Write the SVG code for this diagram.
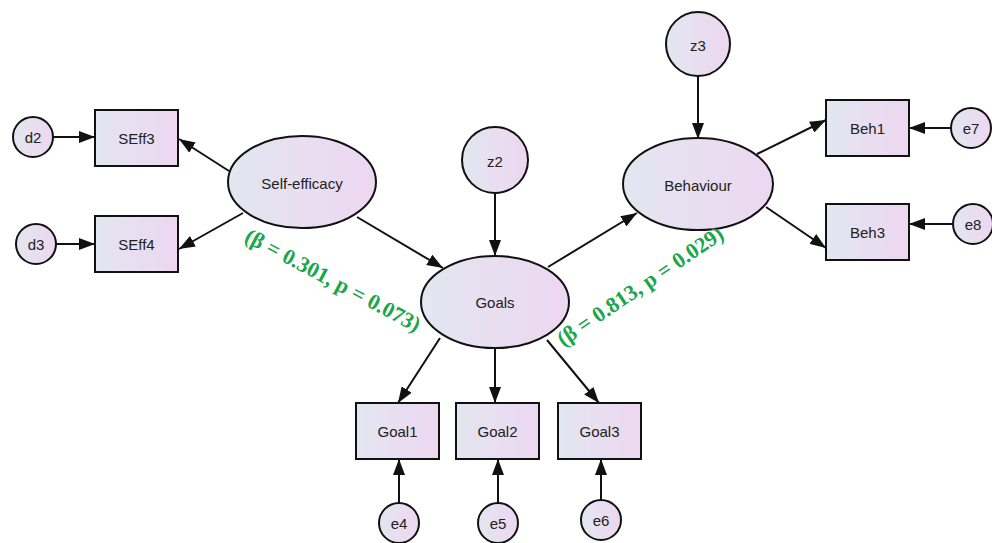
<svg xmlns="http://www.w3.org/2000/svg" width="992" height="543" viewBox="0 0 992 543">
<style>
.n{stroke:#111;stroke-width:2;fill:url(#g)}
.t{font-family:"Liberation Sans",Arial,sans-serif;font-size:15px;fill:#222;text-anchor:middle;dominant-baseline:central}
.c line{stroke:#111;stroke-width:2;marker-end:url(#a)}
.lab{font-family:"Liberation Serif","Times New Roman",serif;font-weight:bold;font-size:22px;fill:#1aa64a;text-anchor:middle;dominant-baseline:central}
</style>
<defs>
<linearGradient id="g" x1="0" y1="0" x2="1" y2="0">
<stop offset="0" stop-color="#e3e6f0"/>
<stop offset="1" stop-color="#edd7f1"/>
</linearGradient>
<marker id="a" markerUnits="userSpaceOnUse" markerWidth="16" markerHeight="12" refX="16" refY="6" orient="auto">
<path d="M0,0 L16,6 L0,12 Z" fill="#111"/>
</marker>
</defs>
<rect width="992" height="543" fill="#fff"/>
<g class="c" id="connectors">
<line x1="53" y1="137" x2="95" y2="137"/>
<line x1="56" y1="244" x2="95" y2="244"/>
<line x1="229" y1="171" x2="179" y2="139"/>
<line x1="243" y1="213" x2="179" y2="249"/>
<line x1="357" y1="217" x2="443" y2="268"/>
<line x1="495" y1="193" x2="495" y2="256"/>
<line x1="548" y1="267" x2="637" y2="213"/>
<line x1="698" y1="76" x2="698" y2="139"/>
<line x1="757" y1="154" x2="826" y2="120"/>
<line x1="766" y1="207" x2="826" y2="248"/>
<line x1="952" y1="128" x2="909" y2="128"/>
<line x1="953" y1="224" x2="909" y2="224"/>
<line x1="440" y1="338" x2="398" y2="403"/>
<line x1="495" y1="348" x2="495" y2="403"/>
<line x1="547" y1="340" x2="599" y2="403"/>
<line x1="399" y1="503" x2="399" y2="459"/>
<line x1="498" y1="503" x2="498" y2="459"/>
<line x1="601" y1="500" x2="601" y2="459"/>
</g>
<g id="d2"><circle class="n" cx="33" cy="137" r="20"/><text class="t" x="33" y="137">d2</text></g>
<g id="d3"><circle class="n" cx="36" cy="244" r="20"/><text class="t" x="36" y="244">d3</text></g>
<g id="SEff3"><rect class="n" x="95" y="110" width="83" height="56"/><text class="t" x="136.5" y="138">SEff3</text></g>
<g id="SEff4"><rect class="n" x="95" y="216" width="83" height="56"/><text class="t" x="136.5" y="244">SEff4</text></g>
<g id="SelfEfficacy"><ellipse class="n" cx="302" cy="182" rx="74" ry="46"/><text class="t" x="302" y="183">Self-efficacy</text></g>
<g id="z2"><circle class="n" cx="495" cy="160" r="33"/><text class="t" x="495" y="161">z2</text></g>
<g id="Goals"><ellipse class="n" cx="495" cy="302" rx="74" ry="46"/><text class="t" x="495" y="302">Goals</text></g>
<g id="z3"><circle class="n" cx="698" cy="44" r="32"/><text class="t" x="698" y="45">z3</text></g>
<g id="Behaviour"><ellipse class="n" cx="698" cy="184" rx="75" ry="46"/><text class="t" x="698" y="185">Behaviour</text></g>
<g id="Beh1"><rect class="n" x="826" y="100" width="83" height="56"/><text class="t" x="867.5" y="128">Beh1</text></g>
<g id="Beh3"><rect class="n" x="826" y="204" width="83" height="56"/><text class="t" x="867.5" y="232">Beh3</text></g>
<g id="e7"><circle class="n" cx="971" cy="128" r="20"/><text class="t" x="971" y="128">e7</text></g>
<g id="e8"><circle class="n" cx="973" cy="224" r="20"/><text class="t" x="973" y="224">e8</text></g>
<g id="Goal1"><rect class="n" x="356" y="403" width="83" height="56"/><text class="t" x="397.5" y="431">Goal1</text></g>
<g id="Goal2"><rect class="n" x="456" y="403" width="83" height="56"/><text class="t" x="497.5" y="431">Goal2</text></g>
<g id="Goal3"><rect class="n" x="558" y="403" width="83" height="56"/><text class="t" x="599.5" y="431">Goal3</text></g>
<g id="e4"><circle class="n" cx="399" cy="523" r="20"/><text class="t" x="399" y="523">e4</text></g>
<g id="e5"><circle class="n" cx="498" cy="523" r="20"/><text class="t" x="498" y="523">e5</text></g>
<g id="e6"><circle class="n" cx="601" cy="520" r="20"/><text class="t" x="601" y="520">e6</text></g>
<g id="labels">
<text class="lab" transform="translate(333,280) rotate(28)">(β = 0.301, p = 0.073)</text>
<text class="lab" transform="translate(640,286) rotate(-34)">(β = 0.813, p = 0.029)</text>
</g>
</svg>
